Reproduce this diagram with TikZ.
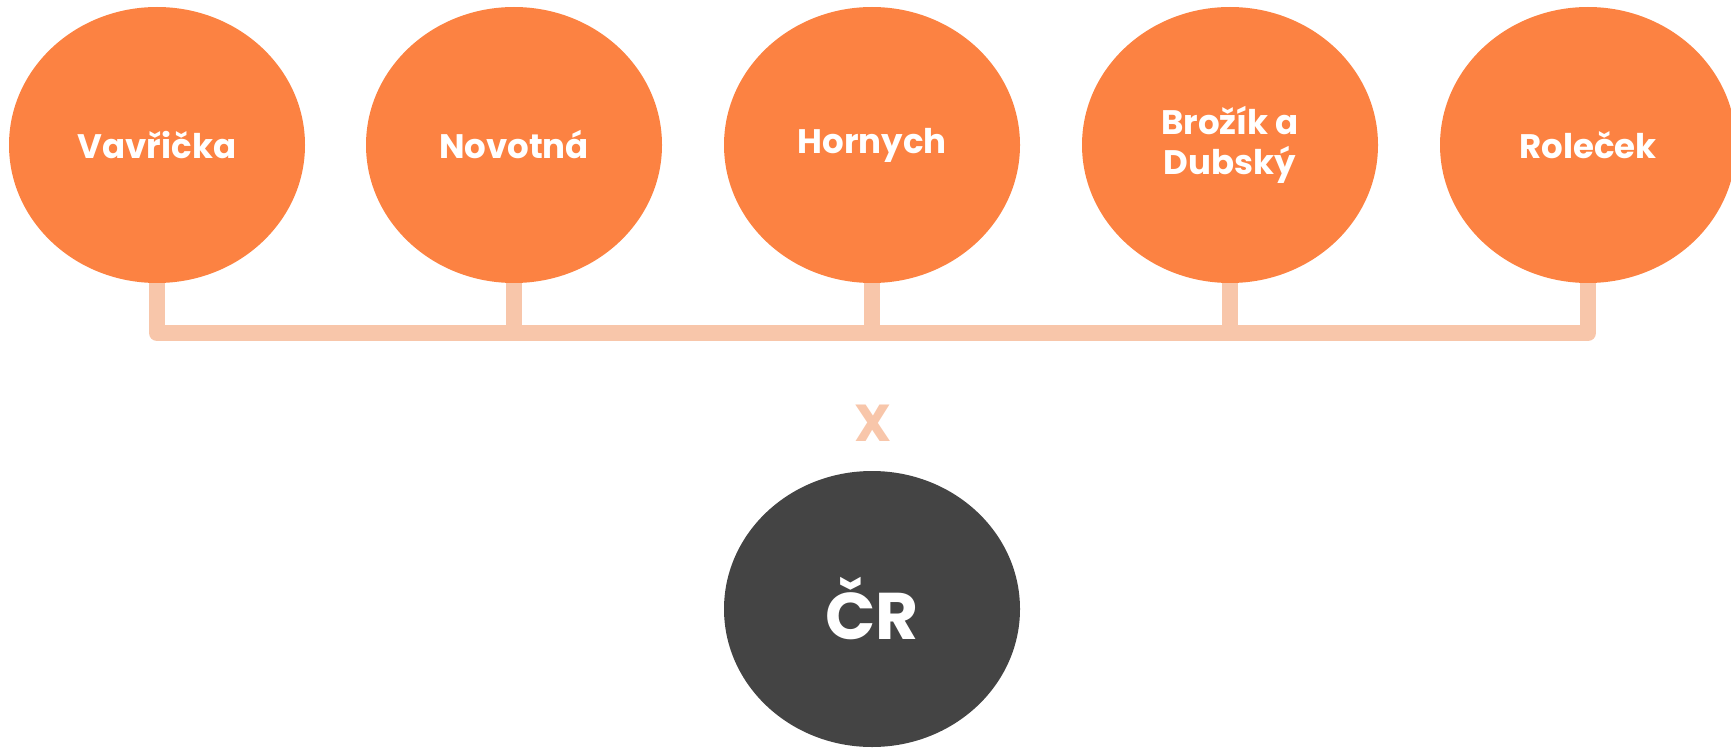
\documentclass[tikz,border=0pt]{standalone}
\usepackage{fontspec}
\setmainfont{Poppins}
\usetikzlibrary{calc}
\usetikzlibrary{shapes.geometric}

\definecolor{pinkorange}{HTML}{FC8242}
\definecolor{lightorange}{HTML}{F8C6AA}
\definecolor{darkgrey}{HTML}{444444}

\tikzset{
    person/.style = {ellipse, fill = pinkorange, minimum width = 296, minimum height = 276, inner sep = 0, text = white, font = \fontsize{34}{40}\selectfont\bfseries, align = center},
    country/.style = {person, fill = darkgrey, font = \fontsize{66}{72}\selectfont\bfseries},
    link/.style = {draw = lightorange, line width = 16, line join = round}
}

\begin{document}
\begin{tikzpicture}[x=1pt, y=-1pt]

        \useasboundingbox (0,0) rectangle (1731,749);

        % the five authors
        \node[person] (vav) at (157,145) {Vavřička};
        \node[person] (nov) at (514,145) {Novotná};
        \node[person] (hor) at (872,145) {Hornych};
        \node[person] (bro) at (1230,145) {Brožík a\\Dubský};
        \node[person] (rol) at (1588,145) {Roleček};

        % the joining line
        \coordinate (bus) at (157,333);
        \draw[link] (vav.south) |- (bus) -| (rol.south);
        \draw[link] (nov.south) -- (nov.south |- bus);
        \draw[link] (hor.south) -- (hor.south |- bus);
        \draw[link] (bro.south) -- (bro.south |- bus);

        % the cross and the country
        \node[text = lightorange, font = \fontsize{52}{56}\selectfont\bfseries] (cross) at (873,423) {X};
        \node[country] (cr) at (872,609) {ČR};

\end{tikzpicture}
\end{document}
